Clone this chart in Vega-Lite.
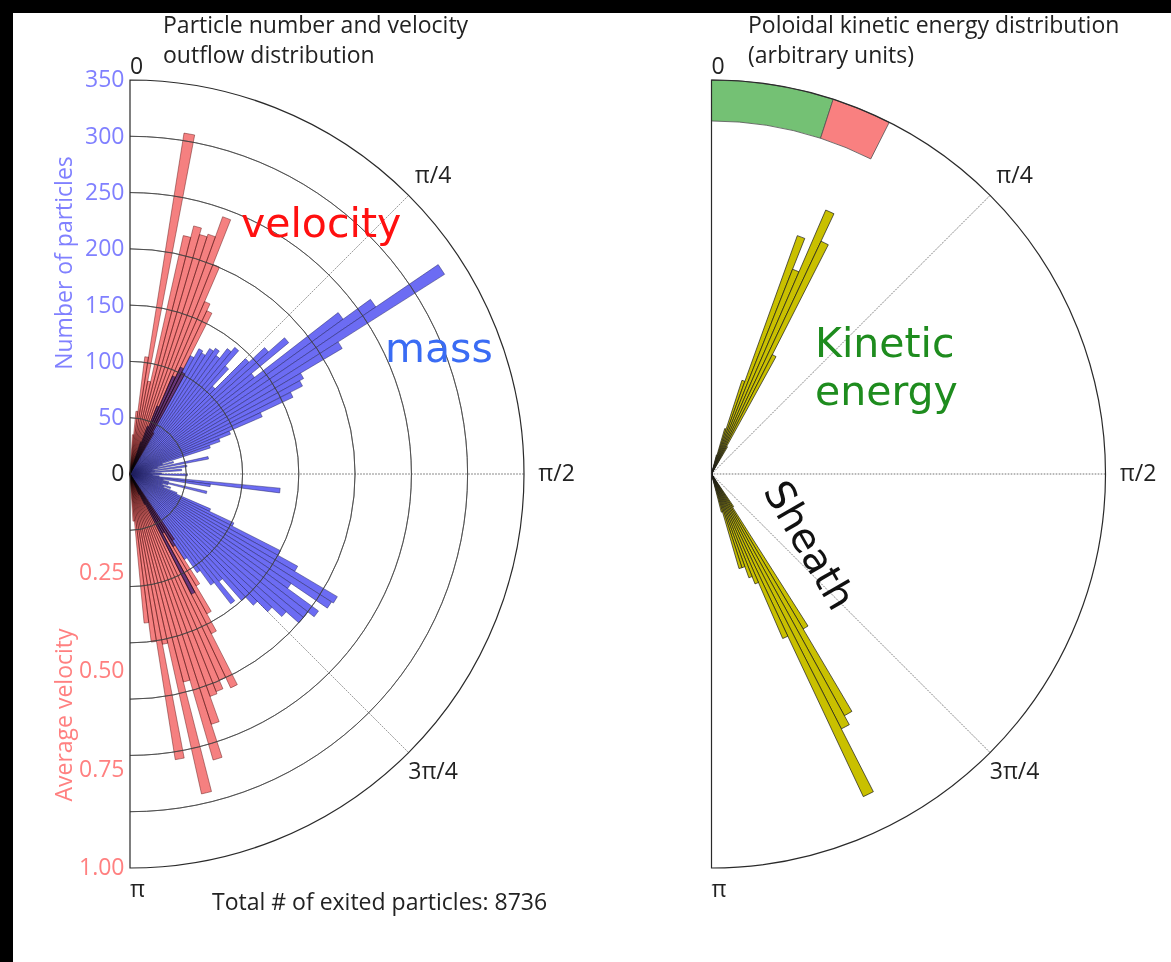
{
 "$schema": "https://vega.github.io/schema/vega-lite/v6.json",
 "width": 1158,
 "height": 949,
 "autosize": {"type": "none"},
 "padding": {"left": 13, "top": 13, "right": 0, "bottom": 0},
 "background": "#000000",
 "config": {"view": {"fill": "#ffffff", "stroke": null}, "font": "Open Sans"},
 "datasets": {
  "mass": [
   {"a0":0.3142,"a1":0.3456,"n":30},{"a0":0.3456,"a1":0.3770,"n":45},{"a0":0.3770,"a1":0.4084,"n":65},
   {"a0":0.4084,"a1":0.4398,"n":95},{"a0":0.4398,"a1":0.4712,"n":105},{"a0":0.4712,"a1":0.5027,"n":118},
   {"a0":0.5027,"a1":0.5341,"n":127},{"a0":0.5341,"a1":0.5655,"n":125},{"a0":0.5655,"a1":0.5969,"n":132},
   {"a0":0.5969,"a1":0.6283,"n":135},{"a0":0.6283,"a1":0.6597,"n":130},{"a0":0.6597,"a1":0.6912,"n":141},
   {"a0":0.6912,"a1":0.7226,"n":146},{"a0":0.7226,"a1":0.7540,"n":128},{"a0":0.7540,"a1":0.7854,"n":107},
   {"a0":0.7854,"a1":0.8168,"n":145},{"a0":0.8168,"a1":0.8482,"n":164},{"a0":0.8482,"a1":0.8796,"n":183},
   {"a0":0.8796,"a1":0.9111,"n":140},{"a0":0.9111,"a1":0.9425,"n":234},{"a0":0.9425,"a1":0.9739,"n":264},
   {"a0":0.9739,"a1":1.0053,"n":331},{"a0":1.0053,"a1":1.0367,"n":219},{"a0":1.0367,"a1":1.0681,"n":176},
   {"a0":1.0681,"a1":1.0996,"n":172},{"a0":1.0996,"a1":1.1310,"n":160},{"a0":1.1310,"a1":1.1624,"n":128},
   {"a0":1.1624,"a1":1.1938,"n":96},{"a0":1.1938,"a1":1.2252,"n":85},{"a0":1.2252,"a1":1.2566,"n":75},
   {"a0":1.2566,"a1":1.2881,"n":30},{"a0":1.2881,"a1":1.3195,"n":40},{"a0":1.3195,"a1":1.3509,"n":25},
   {"a0":1.3509,"a1":1.3823,"n":71},{"a0":1.3823,"a1":1.4137,"n":20},{"a0":1.4137,"a1":1.4451,"n":51},
   {"a0":1.4451,"a1":1.4765,"n":22},{"a0":1.4765,"a1":1.5080,"n":46},{"a0":1.5080,"a1":1.5394,"n":18},
   {"a0":1.5394,"a1":1.5708,"n":28},{"a0":1.5708,"a1":1.6022,"n":51},{"a0":1.6022,"a1":1.6336,"n":20},
   {"a0":1.6336,"a1":1.6650,"n":26},{"a0":1.6650,"a1":1.6965,"n":134},{"a0":1.6965,"a1":1.7279,"n":72},
   {"a0":1.7279,"a1":1.7593,"n":30},{"a0":1.7593,"a1":1.7907,"n":35},{"a0":1.7907,"a1":1.8221,"n":70},
   {"a0":1.8221,"a1":1.8535,"n":35},{"a0":1.8535,"a1":1.8850,"n":30},{"a0":1.8850,"a1":1.9164,"n":38},
   {"a0":1.9164,"a1":1.9478,"n":32},{"a0":1.9478,"a1":1.9792,"n":45},{"a0":1.9792,"a1":2.0106,"n":78},
   {"a0":2.0106,"a1":2.0420,"n":102},{"a0":2.0420,"a1":2.0735,"n":150},{"a0":2.0735,"a1":2.1049,"n":170},
   {"a0":2.1049,"a1":2.1363,"n":214},{"a0":2.1363,"a1":2.1677,"n":212},{"a0":2.1677,"a1":2.1991,"n":173},
   {"a0":2.1991,"a1":2.2305,"n":207},{"a0":2.2305,"a1":2.2619,"n":200},{"a0":2.2619,"a1":2.2934,"n":200},
   {"a0":2.2934,"a1":2.3248,"n":185},{"a0":2.3248,"a1":2.3562,"n":173},{"a0":2.3562,"a1":2.3876,"n":160},
   {"a0":2.3876,"a1":2.4190,"n":150},{"a0":2.4190,"a1":2.4504,"n":124},{"a0":2.4504,"a1":2.4819,"n":146},
   {"a0":2.4819,"a1":2.5133,"n":122},{"a0":2.5133,"a1":2.5447,"n":106},{"a0":2.5447,"a1":2.5761,"n":90},
   {"a0":2.5761,"a1":2.6075,"n":75},{"a0":2.6075,"a1":2.6389,"n":60},{"a0":2.6389,"a1":2.6704,"n":120},
   {"a0":2.6704,"a1":2.7018,"n":30},{"a0":2.7018,"a1":2.7332,"n":20}
  ],
  "velocity": [
   {"a0":0.0628,"a1":0.0942,"v":0.10},{"a0":0.0942,"a1":0.1257,"v":0.16},{"a0":0.1257,"a1":0.1571,"v":0.30},
   {"a0":0.1571,"a1":0.1885,"v":0.876},{"a0":0.1885,"a1":0.2199,"v":0.24},{"a0":0.2199,"a1":0.2513,"v":0.62},
   {"a0":0.2513,"a1":0.2827,"v":0.65},{"a0":0.2827,"a1":0.3142,"v":0.633},{"a0":0.3142,"a1":0.3456,"v":0.64},
   {"a0":0.3456,"a1":0.3770,"v":0.694},{"a0":0.3770,"a1":0.4084,"v":0.572},{"a0":0.4084,"a1":0.4398,"v":0.477},
   {"a0":0.4398,"a1":0.4712,"v":0.458},{"a0":0.4712,"a1":0.5027,"v":0.29},{"a0":0.5027,"a1":0.5341,"v":0.12},
   {"a0":2.5447,"a1":2.5761,"v":0.20},{"a0":2.5761,"a1":2.6075,"v":0.33},{"a0":2.6075,"a1":2.6389,"v":0.405},
   {"a0":2.6389,"a1":2.6704,"v":0.455},{"a0":2.6704,"a1":2.7018,"v":0.60},{"a0":2.7018,"a1":2.7332,"v":0.57},
   {"a0":2.7332,"a1":2.7646,"v":0.594},{"a0":2.7646,"a1":2.7960,"v":0.60},{"a0":2.7960,"a1":2.8274,"v":0.668},
   {"a0":2.8274,"a1":2.8588,"v":0.756},{"a0":2.8588,"a1":2.8903,"v":0.545},{"a0":2.8903,"a1":2.9217,"v":0.832},
   {"a0":2.9217,"a1":2.9531,"v":0.44},{"a0":2.9531,"a1":2.9845,"v":0.734},{"a0":2.9845,"a1":3.0159,"v":0.43},
   {"a0":3.0159,"a1":3.0473,"v":0.38},{"a0":3.0473,"a1":3.0788,"v":0.12}
  ],
  "energy": [
   {"a0":0.2513,"a1":0.2827,"e":0.05},{"a0":0.2827,"a1":0.3142,"e":0.12},{"a0":0.3142,"a1":0.3456,"e":0.25},
   {"a0":0.3456,"a1":0.3770,"e":0.643},{"a0":0.3770,"a1":0.4084,"e":0.559},{"a0":0.4084,"a1":0.4398,"e":0.73},
   {"a0":0.4398,"a1":0.4712,"e":0.653},{"a0":0.4712,"a1":0.5027,"e":0.34},{"a0":0.5027,"a1":0.5341,"e":0.08},
   {"a0":2.5447,"a1":2.5761,"e":0.10},{"a0":2.5761,"a1":2.6075,"e":0.457},{"a0":2.6075,"a1":2.6389,"e":0.70},
   {"a0":2.6389,"a1":2.6704,"e":0.726},{"a0":2.6704,"a1":2.7018,"e":0.905},{"a0":2.7018,"a1":2.7332,"e":0.455},
   {"a0":2.7332,"a1":2.7646,"e":0.30},{"a0":2.7646,"a1":2.7960,"e":0.28},{"a0":2.7960,"a1":2.8274,"e":0.25},
   {"a0":2.8274,"a1":2.8588,"e":0.25},{"a0":2.8588,"a1":2.8903,"e":0.10}
  ],
  "band": [
   {"part":"Kinetic energy","a0":0,"a1":0.314,"r0":0.896,"r1":1.0},
   {"part":"Sheath","a0":0.314,"a1":0.468,"r0":0.896,"r1":1.0}
  ],
  "rings": [{"n":50},{"n":100},{"n":150},{"n":200},{"n":250},{"n":300}],
  "spokes": [{"a":0.7854},{"a":1.5708},{"a":2.3562}],
  "one": [{"id":1}],
  "lab0": [{"label":"0","a":0}],
  "labpi": [{"label":"π","a":3.14159}],
  "labmid": [{"label":"π/4","a":0.7854},{"label":"π/2","a":1.5708},{"label":"3π/4","a":2.3562}]
 },
 "resolve": {"scale": {"radius": "independent"}, "axis": {"x": "independent", "y": "independent"}},
 "layer": [
  {"data": {"name": "spokes"},
   "mark": {"type": "arc", "filled": false, "stroke": "#9a9a9a", "strokeWidth": 0.9, "strokeDash": [1.5, 1.5]},
   "encoding": {
    "x": {"datum": 0, "type": "quantitative", "scale": {"domain": [-0.29695, 2.64213], "nice": false, "zero": false}, "axis": null},
    "y": {"datum": 0, "type": "quantitative", "scale": {"domain": [-1.23858, 1.17005], "nice": false, "zero": false}, "axis": null},
    "theta": {"field": "a", "type": "quantitative", "stack": null, "scale": {"type": "linear", "domain": [0, 6.283185], "range": [0, 6.283185], "nice": false, "zero": false}},
    "theta2": {"field": "a"},
    "radius": {"datum": 1, "type": "quantitative", "scale": {"type": "linear", "domain": [0, 1], "range": [0, 394], "nice": false, "zero": true}}
   }},
  {"data": {"name": "spokes"},
   "mark": {"type": "arc", "filled": false, "stroke": "#9a9a9a", "strokeWidth": 0.9, "strokeDash": [1.5, 1.5]},
   "encoding": {
    "x": {"datum": 1.4759, "type": "quantitative", "scale": {"domain": [-0.29695, 2.64213], "nice": false, "zero": false}, "axis": null},
    "y": {"datum": 0, "type": "quantitative", "scale": {"domain": [-1.23858, 1.17005], "nice": false, "zero": false}, "axis": null},
    "theta": {"field": "a", "type": "quantitative", "stack": null, "scale": {"type": "linear", "domain": [0, 6.283185], "range": [0, 6.283185], "nice": false, "zero": false}},
    "theta2": {"field": "a"},
    "radius": {"datum": 1, "type": "quantitative", "scale": {"type": "linear", "domain": [0, 1], "range": [0, 394], "nice": false, "zero": true}}
   }},
  {"data": {"name": "mass"},
   "mark": {"type": "arc", "fill": "#6060f2", "fillOpacity": 0.92, "stroke": "#20205a", "strokeWidth": 0.6, "strokeOpacity": 0.75},
   "encoding": {
    "x": {"datum": 0, "type": "quantitative", "scale": {"domain": [-0.29695, 2.64213], "nice": false, "zero": false}, "axis": null},
    "y": {"datum": 0, "type": "quantitative", "scale": {"domain": [-1.23858, 1.17005], "nice": false, "zero": false}, "axis": null},
    "theta": {"field": "a0", "type": "quantitative", "stack": null, "scale": {"type": "linear", "domain": [0, 6.283185], "range": [0, 6.283185], "nice": false, "zero": false}},
    "theta2": {"field": "a1"},
    "radius": {"field": "n", "type": "quantitative", "title": "Number of particles", "scale": {"type": "linear", "domain": [0, 350], "range": [0, 394], "nice": false, "zero": true}}
   }},
  {"data": {"name": "velocity"},
   "mark": {"type": "arc", "fill": "#f47272", "fillOpacity": 0.9, "stroke": "#5a1010", "strokeWidth": 0.6, "strokeOpacity": 0.75, "blend": "multiply"},
   "encoding": {
    "x": {"datum": 0, "type": "quantitative", "scale": {"domain": [-0.29695, 2.64213], "nice": false, "zero": false}, "axis": null},
    "y": {"datum": 0, "type": "quantitative", "scale": {"domain": [-1.23858, 1.17005], "nice": false, "zero": false}, "axis": null},
    "theta": {"field": "a0", "type": "quantitative", "stack": null, "scale": {"type": "linear", "domain": [0, 6.283185], "range": [0, 6.283185], "nice": false, "zero": false}},
    "theta2": {"field": "a1"},
    "radius": {"field": "v", "type": "quantitative", "title": "Average velocity", "scale": {"type": "linear", "domain": [0, 1], "range": [0, 394], "nice": false, "zero": true}}
   }},
  {"data": {"name": "rings"},
   "mark": {"type": "arc", "filled": false, "stroke": "#404040", "strokeWidth": 0.85, "strokeOpacity": 0.85},
   "encoding": {
    "x": {"datum": 0, "type": "quantitative", "scale": {"domain": [-0.29695, 2.64213], "nice": false, "zero": false}, "axis": null},
    "y": {"datum": 0, "type": "quantitative", "scale": {"domain": [-1.23858, 1.17005], "nice": false, "zero": false}, "axis": null},
    "theta": {"datum": 0, "type": "quantitative", "stack": null, "scale": {"type": "linear", "domain": [0, 6.283185], "range": [0, 6.283185], "nice": false, "zero": false}},
    "theta2": {"datum": 3.14159},
    "radius": {"field": "n", "type": "quantitative", "scale": {"type": "linear", "domain": [0, 350], "range": [0, 394], "nice": false, "zero": true}},
    "radius2": {"field": "n"}
   }},
  {"data": {"name": "one"},
   "mark": {"type": "arc", "filled": false, "stroke": "#2a2a2a", "strokeWidth": 1.2},
   "encoding": {
    "x": {"datum": 0, "type": "quantitative", "scale": {"domain": [-0.29695, 2.64213], "nice": false, "zero": false}, "axis": null},
    "y": {"datum": 0, "type": "quantitative", "scale": {"domain": [-1.23858, 1.17005], "nice": false, "zero": false},
     "axis": {"values": [-1, -0.75, -0.5, -0.25, 0, 0.142857, 0.285714, 0.428571, 0.571429, 0.714286, 0.857143, 1],
      "labelExpr": "datum.value > 0.001 ? format(datum.value * 350, '.0f') : (datum.value < -0.001 ? format(-datum.value, '.2f') : '0')",
      "labelColor": {"condition": [{"test": "datum.value > 0.001", "value": "#8080ff"}, {"test": "datum.value < -0.001", "value": "#ff8080"}], "value": "#222222"},
      "offset": -117, "domain": false, "ticks": false, "grid": false, "title": null,
      "labelFont": "Open Sans", "labelFontSize": 23, "labelPadding": 6, "labelOverlap": false, "labelFlush": false}},
    "theta": {"datum": 0, "type": "quantitative", "stack": null, "scale": {"type": "linear", "domain": [0, 6.283185], "range": [0, 6.283185], "nice": false, "zero": false}},
    "theta2": {"datum": 3.14159},
    "radius": {"datum": 1, "type": "quantitative", "scale": {"type": "linear", "domain": [0, 1], "range": [0, 394], "nice": false, "zero": true}}
   }},
  {"data": {"name": "band"},
   "mark": {"type": "arc", "stroke": "#505050", "strokeWidth": 0.8},
   "encoding": {
    "x": {"datum": 1.4759, "type": "quantitative", "scale": {"domain": [-0.29695, 2.64213], "nice": false, "zero": false}, "axis": null},
    "y": {"datum": 0, "type": "quantitative", "scale": {"domain": [-1.23858, 1.17005], "nice": false, "zero": false}, "axis": null},
    "theta": {"field": "a0", "type": "quantitative", "stack": null, "scale": {"type": "linear", "domain": [0, 6.283185], "range": [0, 6.283185], "nice": false, "zero": false}},
    "theta2": {"field": "a1"},
    "radius": {"field": "r1", "type": "quantitative", "scale": {"type": "linear", "domain": [0, 1], "range": [0, 394], "nice": false, "zero": true}},
    "radius2": {"field": "r0"},
    "color": {"field": "part", "type": "nominal", "scale": {"domain": ["Kinetic energy", "Sheath"], "range": ["#74c174", "#f98080"]}, "legend": null}
   }},
  {"data": {"name": "energy"},
   "mark": {"type": "arc", "fill": "#c9c000", "stroke": "#1a1a1a", "strokeWidth": 0.7},
   "encoding": {
    "x": {"datum": 1.4759, "type": "quantitative", "scale": {"domain": [-0.29695, 2.64213], "nice": false, "zero": false}, "axis": null},
    "y": {"datum": 0, "type": "quantitative", "scale": {"domain": [-1.23858, 1.17005], "nice": false, "zero": false}, "axis": null},
    "theta": {"field": "a0", "type": "quantitative", "stack": null, "scale": {"type": "linear", "domain": [0, 6.283185], "range": [0, 6.283185], "nice": false, "zero": false}},
    "theta2": {"field": "a1"},
    "radius": {"field": "e", "type": "quantitative", "scale": {"type": "linear", "domain": [0, 1], "range": [0, 394], "nice": false, "zero": true}}
   }},
  {"data": {"name": "one"},
   "mark": {"type": "arc", "filled": false, "stroke": "#2a2a2a", "strokeWidth": 1.2},
   "encoding": {
    "x": {"datum": 1.4759, "type": "quantitative", "scale": {"domain": [-0.29695, 2.64213], "nice": false, "zero": false}, "axis": null},
    "y": {"datum": 0, "type": "quantitative", "scale": {"domain": [-1.23858, 1.17005], "nice": false, "zero": false}, "axis": null},
    "theta": {"datum": 0, "type": "quantitative", "stack": null, "scale": {"type": "linear", "domain": [0, 6.283185], "range": [0, 6.283185], "nice": false, "zero": false}},
    "theta2": {"datum": 3.14159},
    "radius": {"datum": 1, "type": "quantitative", "scale": {"type": "linear", "domain": [0, 1], "range": [0, 394], "nice": false, "zero": true}}
   }},
  {"data": {"name": "lab0"},
   "mark": {"type": "text", "align": "left", "baseline": "middle", "fontSize": 23, "color": "#222222"},
   "encoding": {
    "x": {"datum": 0, "type": "quantitative", "scale": {"domain": [-0.29695, 2.64213], "nice": false, "zero": false}, "axis": null},
    "y": {"datum": 0, "type": "quantitative", "scale": {"domain": [-1.23858, 1.17005], "nice": false, "zero": false}, "axis": null},
    "theta": {"field": "a", "type": "quantitative", "stack": null, "scale": {"type": "linear", "domain": [0, 6.283185], "range": [0, 6.283185], "nice": false, "zero": false}},
    "radius": {"datum": 1.033, "type": "quantitative", "scale": {"type": "linear", "domain": [0, 1], "range": [0, 394], "nice": false, "zero": true}},
    "text": {"field": "label"}
   }},
  {"data": {"name": "labpi"},
   "mark": {"type": "text", "align": "left", "baseline": "middle", "fontSize": 23, "color": "#222222"},
   "encoding": {
    "x": {"datum": 0, "type": "quantitative", "scale": {"domain": [-0.29695, 2.64213], "nice": false, "zero": false}, "axis": null},
    "y": {"datum": 0, "type": "quantitative", "scale": {"domain": [-1.23858, 1.17005], "nice": false, "zero": false}, "axis": null},
    "theta": {"field": "a", "type": "quantitative", "stack": null, "scale": {"type": "linear", "domain": [0, 6.283185], "range": [0, 6.283185], "nice": false, "zero": false}},
    "radius": {"datum": 1.056, "type": "quantitative", "scale": {"type": "linear", "domain": [0, 1], "range": [0, 394], "nice": false, "zero": true}},
    "text": {"field": "label"}
   }},
  {"data": {"name": "labmid"},
   "mark": {"type": "text", "align": "center", "baseline": "middle", "fontSize": 23, "dx": 5, "color": "#222222"},
   "encoding": {
    "x": {"datum": 0, "type": "quantitative", "scale": {"domain": [-0.29695, 2.64213], "nice": false, "zero": false}, "axis": null},
    "y": {"datum": 0, "type": "quantitative", "scale": {"domain": [-1.23858, 1.17005], "nice": false, "zero": false}, "axis": null},
    "theta": {"field": "a", "type": "quantitative", "stack": null, "scale": {"type": "linear", "domain": [0, 6.283185], "range": [0, 6.283185], "nice": false, "zero": false}},
    "radius": {"datum": 1.07, "type": "quantitative", "scale": {"type": "linear", "domain": [0, 1], "range": [0, 394], "nice": false, "zero": true}},
    "text": {"field": "label"}
   }},
  {"data": {"name": "lab0"},
   "mark": {"type": "text", "align": "left", "baseline": "middle", "fontSize": 23, "color": "#222222"},
   "encoding": {
    "x": {"datum": 1.4759, "type": "quantitative", "scale": {"domain": [-0.29695, 2.64213], "nice": false, "zero": false}, "axis": null},
    "y": {"datum": 0, "type": "quantitative", "scale": {"domain": [-1.23858, 1.17005], "nice": false, "zero": false}, "axis": null},
    "theta": {"field": "a", "type": "quantitative", "stack": null, "scale": {"type": "linear", "domain": [0, 6.283185], "range": [0, 6.283185], "nice": false, "zero": false}},
    "radius": {"datum": 1.033, "type": "quantitative", "scale": {"type": "linear", "domain": [0, 1], "range": [0, 394], "nice": false, "zero": true}},
    "text": {"field": "label"}
   }},
  {"data": {"name": "labpi"},
   "mark": {"type": "text", "align": "left", "baseline": "middle", "fontSize": 23, "color": "#222222"},
   "encoding": {
    "x": {"datum": 1.4759, "type": "quantitative", "scale": {"domain": [-0.29695, 2.64213], "nice": false, "zero": false}, "axis": null},
    "y": {"datum": 0, "type": "quantitative", "scale": {"domain": [-1.23858, 1.17005], "nice": false, "zero": false}, "axis": null},
    "theta": {"field": "a", "type": "quantitative", "stack": null, "scale": {"type": "linear", "domain": [0, 6.283185], "range": [0, 6.283185], "nice": false, "zero": false}},
    "radius": {"datum": 1.056, "type": "quantitative", "scale": {"type": "linear", "domain": [0, 1], "range": [0, 394], "nice": false, "zero": true}},
    "text": {"field": "label"}
   }},
  {"data": {"name": "labmid"},
   "mark": {"type": "text", "align": "center", "baseline": "middle", "fontSize": 23, "dx": 5, "color": "#222222"},
   "encoding": {
    "x": {"datum": 1.4759, "type": "quantitative", "scale": {"domain": [-0.29695, 2.64213], "nice": false, "zero": false}, "axis": null},
    "y": {"datum": 0, "type": "quantitative", "scale": {"domain": [-1.23858, 1.17005], "nice": false, "zero": false}, "axis": null},
    "theta": {"field": "a", "type": "quantitative", "stack": null, "scale": {"type": "linear", "domain": [0, 6.283185], "range": [0, 6.283185], "nice": false, "zero": false}},
    "radius": {"datum": 1.07, "type": "quantitative", "scale": {"type": "linear", "domain": [0, 1], "range": [0, 394], "nice": false, "zero": true}},
    "text": {"field": "label"}
   }},
  {"data": {"name": "one"},
   "mark": {"type": "text", "text": ["Particle number and velocity", "outflow distribution"], "align": "left", "baseline": "alphabetic", "fontSize": 23, "lineHeight": 30, "color": "#222222"},
   "encoding": {
    "x": {"datum": 0.0838, "type": "quantitative", "scale": {"domain": [-0.29695, 2.64213], "nice": false, "zero": false}, "axis": null},
    "y": {"datum": 1.1193, "type": "quantitative", "scale": {"domain": [-1.23858, 1.17005], "nice": false, "zero": false}, "axis": null}
   }},
  {"data": {"name": "one"},
   "mark": {"type": "text", "text": ["Poloidal kinetic energy distribution", "(arbitrary units)"], "align": "left", "baseline": "alphabetic", "fontSize": 23, "lineHeight": 30, "color": "#222222"},
   "encoding": {
    "x": {"datum": 1.5685, "type": "quantitative", "scale": {"domain": [-0.29695, 2.64213], "nice": false, "zero": false}, "axis": null},
    "y": {"datum": 1.1193, "type": "quantitative", "scale": {"domain": [-1.23858, 1.17005], "nice": false, "zero": false}, "axis": null}
   }},
  {"data": {"name": "one"},
   "mark": {"type": "text", "text": "velocity", "align": "left", "baseline": "alphabetic", "font": "DejaVu Sans", "fontSize": 41, "color": "#ff1010"},
   "encoding": {
    "x": {"datum": 0.2817, "type": "quantitative", "scale": {"domain": [-0.29695, 2.64213], "nice": false, "zero": false}, "axis": null},
    "y": {"datum": 0.6015, "type": "quantitative", "scale": {"domain": [-1.23858, 1.17005], "nice": false, "zero": false}, "axis": null}
   }},
  {"data": {"name": "one"},
   "mark": {"type": "text", "text": "mass", "align": "left", "baseline": "alphabetic", "font": "DejaVu Sans", "fontSize": 41, "color": "#3a6cf4"},
   "encoding": {
    "x": {"datum": 0.6472, "type": "quantitative", "scale": {"domain": [-0.29695, 2.64213], "nice": false, "zero": false}, "axis": null},
    "y": {"datum": 0.2843, "type": "quantitative", "scale": {"domain": [-1.23858, 1.17005], "nice": false, "zero": false}, "axis": null}
   }},
  {"data": {"name": "one"},
   "mark": {"type": "text", "text": ["Kinetic", "energy"], "align": "left", "baseline": "alphabetic", "font": "DejaVu Sans", "fontSize": 41, "lineHeight": 48, "color": "#1e8c1e"},
   "encoding": {
    "x": {"datum": 1.7386, "type": "quantitative", "scale": {"domain": [-0.29695, 2.64213], "nice": false, "zero": false}, "axis": null},
    "y": {"datum": 0.2970, "type": "quantitative", "scale": {"domain": [-1.23858, 1.17005], "nice": false, "zero": false}, "axis": null}
   }},
  {"data": {"name": "one"},
   "mark": {"type": "text", "text": "Sheath", "align": "center", "baseline": "middle", "font": "DejaVu Sans", "fontSize": 40, "angle": 60, "color": "#111111"},
   "encoding": {
    "x": {"datum": 1.7208, "type": "quantitative", "scale": {"domain": [-0.29695, 2.64213], "nice": false, "zero": false}, "axis": null},
    "y": {"datum": -0.1827, "type": "quantitative", "scale": {"domain": [-1.23858, 1.17005], "nice": false, "zero": false}, "axis": null}
   }},
  {"data": {"name": "one"},
   "mark": {"type": "text", "text": "Total # of exited particles: 8736", "align": "left", "baseline": "alphabetic", "fontSize": 23, "color": "#222222"},
   "encoding": {
    "x": {"datum": 0.2081, "type": "quantitative", "scale": {"domain": [-0.29695, 2.64213], "nice": false, "zero": false}, "axis": null},
    "y": {"datum": -1.1066, "type": "quantitative", "scale": {"domain": [-1.23858, 1.17005], "nice": false, "zero": false}, "axis": null}
   }},
  {"data": {"name": "one"},
   "mark": {"type": "text", "text": "Number of particles", "align": "center", "baseline": "middle", "fontSize": 23, "angle": 270, "color": "#8080ff"},
   "encoding": {
    "x": {"datum": -0.165, "type": "quantitative", "scale": {"domain": [-0.29695, 2.64213], "nice": false, "zero": false}, "axis": null},
    "y": {"datum": 0.5355, "type": "quantitative", "scale": {"domain": [-1.23858, 1.17005], "nice": false, "zero": false}, "axis": null}
   }},
  {"data": {"name": "one"},
   "mark": {"type": "text", "text": "Average velocity", "align": "center", "baseline": "middle", "fontSize": 23, "angle": 270, "color": "#ff8080"},
   "encoding": {
    "x": {"datum": -0.165, "type": "quantitative", "scale": {"domain": [-0.29695, 2.64213], "nice": false, "zero": false}, "axis": null},
    "y": {"datum": -0.6117, "type": "quantitative", "scale": {"domain": [-1.23858, 1.17005], "nice": false, "zero": false}, "axis": null}
   }}
 ]
}
